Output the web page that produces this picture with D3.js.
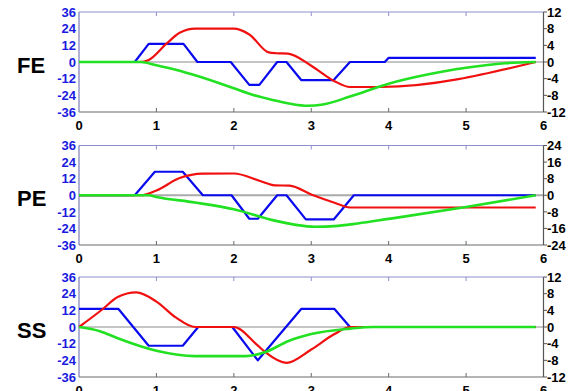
<!DOCTYPE html>
<html><head><meta charset="utf-8">
<script src="https://cdn.jsdelivr.net/npm/d3@7"></script>
<style>
html,body{margin:0;padding:0;background:#fff;}
svg{display:block;font-family:"Liberation Sans",Arial,sans-serif;}
</style></head>
<body><svg id="c" width="581" height="391"></svg>
<script>
// ---- data ----
const xTicks = [0,1,2,3,4,5,6];
const panelNames = ["FE","PE","SS"];
const leftTicks = [36,24,12,0,-12,-24,-36];
const rightTicksFE = [12,8,4,0,-4,-8,-12];
const rightTicksPE = [24,16,8,0,-8,-16,-24];
const rightTicksSS = [12,8,4,0,-4,-8,-12];

// blue: left axis units; red & green: right axis units
const feBlue = [[0,0],[0.72,0],[0.9,13],[1.35,13],[1.53,0],[1.96,0],[2.2,-16.5],[2.33,-16.5],[2.56,0],[2.68,0],[2.87,-13],[3.29,-13],[3.5,0],[3.95,0],[4.0,3],[5.9,3]];
const feRed = [[0,0],[0.78,0],[0.9,0.5],[1.13,4.4],[1.3,7],[1.5,8],[2.0,8],[2.2,6.6],[2.45,2.3],[2.55,2.1],[2.7,2.0],[3.0,-0.9],[3.3,-4.6],[3.5,-6],[3.9,-6],[5.9,0]];
const feGreen = [[0,0],[0.8,0],[1.0,-0.8],[1.2,-1.6],[1.5,-3.2],[2.0,-6.3],[2.25,-7.9],[2.5,-9.1],[2.75,-10.1],[2.95,-10.5],[3.15,-10.2],[3.5,-8.3],[4.0,-5.2],[4.5,-3],[5.0,-1.4],[5.5,-0.3],[5.9,0]];

const peBlue = [[0,0],[0.72,0],[0.98,17],[1.34,17],[1.6,0],[1.97,0],[2.2,-17],[2.31,-17],[2.56,0],[2.68,0],[2.93,-17.5],[3.29,-17.5],[3.55,0],[5.9,0]];
const peRed = [[0,0],[0.8,0],[1.0,2.3],[1.3,8.3],[1.6,10.4],[2.0,10.5],[2.34,6.9],[2.53,4.8],[2.72,4.6],[3.0,0.4],[3.3,-3.6],[3.5,-5.9],[5.9,-5.9]];
const peGreen = [[0,0],[0.9,0],[1.0,-0.8],[1.5,-3.5],[2.0,-6.8],[2.5,-12],[2.8,-14.3],[3.05,-15.2],[3.3,-14.9],[3.6,-13.6],[4.0,-11.4],[5.0,-5.7],[5.9,0]];

const ssBlue = [[0,13],[0.51,13],[0.9,-13.5],[1.34,-13.5],[1.54,0],[1.98,0],[2.31,-24],[2.87,13],[3.3,13],[3.5,0],[5.9,0]];
const ssRed = [[0,0],[0.3,4.2],[0.5,7.2],[0.74,8.3],[1.0,6.1],[1.25,2.3],[1.5,0],[2.0,0],[2.3,-4.3],[2.41,-6.1],[2.68,-8.6],[3.0,-5.4],[3.3,-1.7],[3.5,0],[5.9,0]];
const ssGreen = [[0,0],[0.27,-1.0],[0.5,-2.7],[1.0,-5.7],[1.5,-7],[2.15,-7],[2.41,-6.0],[2.7,-3.4],[3.0,-1.7],[3.5,-0.4],[3.8,0],[5.9,0]];

const panels = [
  {name:panelNames[0], top:12, bottom:112, rTicks:rightTicksFE, blue:feBlue, red:feRed, green:feGreen, zc:"#8a8a8a", zw:1.2},
  {name:panelNames[1], top:145.5, bottom:245, rTicks:rightTicksPE, blue:peBlue, red:peRed, green:peGreen, zc:"#aaaaaa", zw:2},
  {name:panelNames[2], top:277, bottom:377, rTicks:rightTicksSS, blue:ssBlue, red:ssRed, green:ssGreen, zc:"#8a8a8a", zw:1.2}
];

const svg = d3.select("#c");
const x = d3.scaleLinear().domain([0,6]).range([79,543.5]);

panels.forEach(p => {
  const g = svg.append("g");
  const yl = d3.scaleLinear().domain([-36,36]).range([p.bottom,p.top]);
  const rmax = d3.max(p.rTicks);
  const yr = d3.scaleLinear().domain([-rmax,rmax]).range([p.bottom,p.top]);

  // zero line
  g.append("line").attr("x1",x(0)).attr("x2",x(6)).attr("y1",yl(0)).attr("y2",yl(0))
    .attr("stroke",p.zc).attr("stroke-width",p.zw);

  // frame
  g.append("line").attr("x1",x(0)).attr("x2",x(6)).attr("y1",p.top).attr("y2",p.top).attr("stroke","#8f8fcc").attr("stroke-width",1);
  g.append("line").attr("x1",x(0)).attr("x2",x(6)).attr("y1",p.bottom).attr("y2",p.bottom).attr("stroke","#6a6a6a").attr("stroke-width",1.2);
  g.append("line").attr("x1",x(0)).attr("x2",x(0)).attr("y1",p.top).attr("y2",p.bottom).attr("stroke","#7c7cb8").attr("stroke-width",1.2);
  g.append("line").attr("x1",x(6)).attr("x2",x(6)).attr("y1",p.top).attr("y2",p.bottom).attr("stroke","#555").attr("stroke-width",1.2);

  // x ticks
  xTicks.slice(1,-1).forEach(t => {
    g.append("line").attr("x1",x(t)).attr("x2",x(t)).attr("y1",p.top).attr("y2",p.top+4).attr("stroke","#8f8fcc");
    g.append("line").attr("x1",x(t)).attr("x2",x(t)).attr("y1",p.bottom).attr("y2",p.bottom-4).attr("stroke","#6a6a6a");
  });
  xTicks.forEach(t => {
    g.append("text").attr("x",x(t)).attr("y",p.bottom+17.5).attr("text-anchor","middle")
      .attr("font-size",13).attr("font-weight","bold").attr("fill","#000").text(t);
  });

  // left ticks
  leftTicks.forEach(t => {
    g.append("text").attr("x",76).attr("y",yl(t)).attr("dy","0.36em").attr("text-anchor","end")
      .attr("font-size",13).attr("font-weight","bold").attr("fill","#1a1ae0").text(t);
  });
  // right ticks
  p.rTicks.forEach(t => {
    g.append("line").attr("x1",x(6)).attr("x2",x(6)+3.5).attr("y1",yr(t)).attr("y2",yr(t)).attr("stroke","#555");
    g.append("text").attr("x",547).attr("y",yr(t)).attr("dy","0.36em").attr("text-anchor","start")
      .attr("font-size",13).attr("font-weight","bold").attr("fill","#000").text(t);
  });

  // panel label
  g.append("text").attr("x",17).attr("y",yl(0)+11).attr("font-size",22).attr("font-weight","bold")
    .attr("fill","#000").text(p.name);

  const lineL = d3.line().x(d=>x(d[0])).y(d=>yl(d[1]));
  const lineR = d3.line().x(d=>x(d[0])).y(d=>yr(d[1])).curve(d3.curveMonotoneX);
  g.append("path").attr("d",lineL(p.blue)).attr("fill","none").attr("stroke","#0a0aee").attr("stroke-width",2.2).attr("stroke-linejoin","round");
  g.append("path").attr("d",lineR(p.red)).attr("fill","none").attr("stroke","#f01010").attr("stroke-width",2.2);
  g.append("path").attr("d",lineR(p.green)).attr("fill","none").attr("stroke","#22e022").attr("stroke-width",2.6);
});
</script></body></html>
